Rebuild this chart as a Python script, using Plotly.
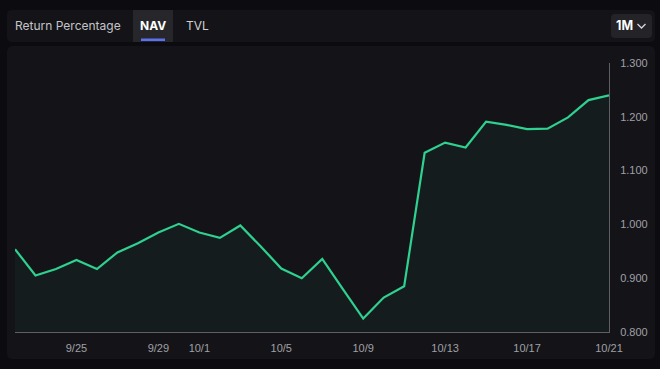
import plotly.graph_objects as go
import pandas as pd

# ---- data ----
dates = pd.date_range("2024-09-22", "2024-10-21", freq="D").strftime("%Y-%m-%d").tolist()
nav = [0.954, 0.905, 0.917, 0.934, 0.917, 0.948, 0.965, 0.985, 1.001, 0.985,
       0.975, 0.998, 0.959, 0.918, 0.900, 0.936, 0.880, 0.825, 0.864, 0.885,
       1.133, 1.152, 1.143, 1.191, 1.185, 1.177, 1.178, 1.199, 1.231, 1.240]
tick_dates = ["2024-09-25", "2024-09-29", "2024-10-01", "2024-10-05",
              "2024-10-09", "2024-10-13", "2024-10-17", "2024-10-21"]
tick_labels = ["9/25", "9/29", "10/1", "10/5", "10/9", "10/13", "10/17", "10/21"]
y_ticks = [0.8, 0.9, 1.0, 1.1, 1.2, 1.3]
tabs = ["Return Percentage", "NAV", "TVL"]

W, H = 660, 369
L, R, T, B = 15, 609, 63, 332

def px(x):
    return (x - L) / (R - L)

def py(y):
    return (B - y) / (B - T)

def rrect(x0, y0, x1, y1, r):
    X0, X1 = px(x0), px(x1)
    Y0, Y1 = py(y0), py(y1)
    rx = r / (R - L)
    ry = r / (B - T)
    return (f"M{X0+rx},{Y0} L{X1-rx},{Y0} Q{X1},{Y0} {X1},{Y0-ry} "
            f"L{X1},{Y1+ry} Q{X1},{Y1} {X1-rx},{Y1} L{X0+rx},{Y1} "
            f"Q{X0},{Y1} {X0},{Y1+ry} L{X0},{Y0-ry} Q{X0},{Y0} {X0+rx},{Y0} Z")

fig = go.Figure()
fig.add_trace(go.Scatter(
    x=dates, y=nav, mode="lines",
    line=dict(color="#2ed18f", width=2.2),
    fill="tozeroy", fillcolor="#151c1e",
    hoverinfo="skip",
))

shapes = [
    dict(type="path", path=rrect(7, 10, 655, 42, 5), xref="paper", yref="paper",
         fillcolor="#141418", line=dict(width=0), layer="below"),
    dict(type="path", path=rrect(7, 46, 655, 359, 6), xref="paper", yref="paper",
         fillcolor="#141418", line=dict(width=0), layer="below"),
    dict(type="rect", x0=px(133), x1=px(173), y0=py(10), y1=py(42), xref="paper", yref="paper",
         fillcolor="#27272b", line=dict(width=0), layer="below"),
    dict(type="rect", x0=px(141), x1=px(165), y0=py(38.5), y1=py(41), xref="paper", yref="paper",
         fillcolor="#5a72f0", line=dict(width=0)),
    dict(type="path", path=rrect(611, 14, 652, 38, 4), xref="paper", yref="paper",
         fillcolor="#232328", line=dict(width=0), layer="below"),
    dict(type="path",
         path=f"M{px(637.5)},{py(24)} L{px(641.5)},{py(28)} L{px(645.5)},{py(24)}",
         xref="paper", yref="paper", line=dict(color="#d8d8dc", width=1.3)),
]

ann = [
    dict(text=tabs[0], x=px(12.5), y=py(26), xanchor="left", yanchor="middle",
         font=dict(family="Inter", size=12, color="#c4c4c8")),
    dict(text="<b>" + tabs[1] + "</b>", x=px(153), y=py(26), xanchor="center", yanchor="middle",
         font=dict(family="Inter", size=12, color="#ffffff")),
    dict(text=tabs[2], x=px(197), y=py(26), xanchor="center", yanchor="middle",
         font=dict(family="Inter", size=12, color="#d0d0d4")),
    dict(text="<b>1M</b>", x=px(614), y=py(26), xanchor="left", yanchor="middle",
         font=dict(family="Inter", size=12.5, color="#ffffff")),
]
for a in ann:
    a.update(xref="paper", yref="paper", showarrow=False)

fig.update_layout(
    width=W, height=H,
    margin=dict(l=L, r=W - R, t=T, b=H - B, pad=0),
    paper_bgcolor="#0b0b10", plot_bgcolor="#141418",
    showlegend=False,
    shapes=shapes, annotations=ann,
    xaxis=dict(
        type="date", range=[dates[0], dates[-1]],
        tickvals=tick_dates, ticktext=tick_labels,
        showgrid=False, zeroline=False,
        showline=True, linecolor="#5e5e64", linewidth=1,
        ticks="", ticklabelstandoff=6,
        tickfont=dict(family="Liberation Sans, Arial", size=11, color="#a0a0a6"),
    ),
    yaxis=dict(
        side="right", range=[0.8, 1.3], tickvals=y_ticks, tickformat=".3f",
        showgrid=False, zeroline=False,
        showline=True, linecolor="#5e5e64", linewidth=1,
        ticks="", ticklabelstandoff=8,
        tickfont=dict(family="Liberation Sans, Arial", size=11, color="#a0a0a6"),
    ),
)

fig.write_html("out.html")
